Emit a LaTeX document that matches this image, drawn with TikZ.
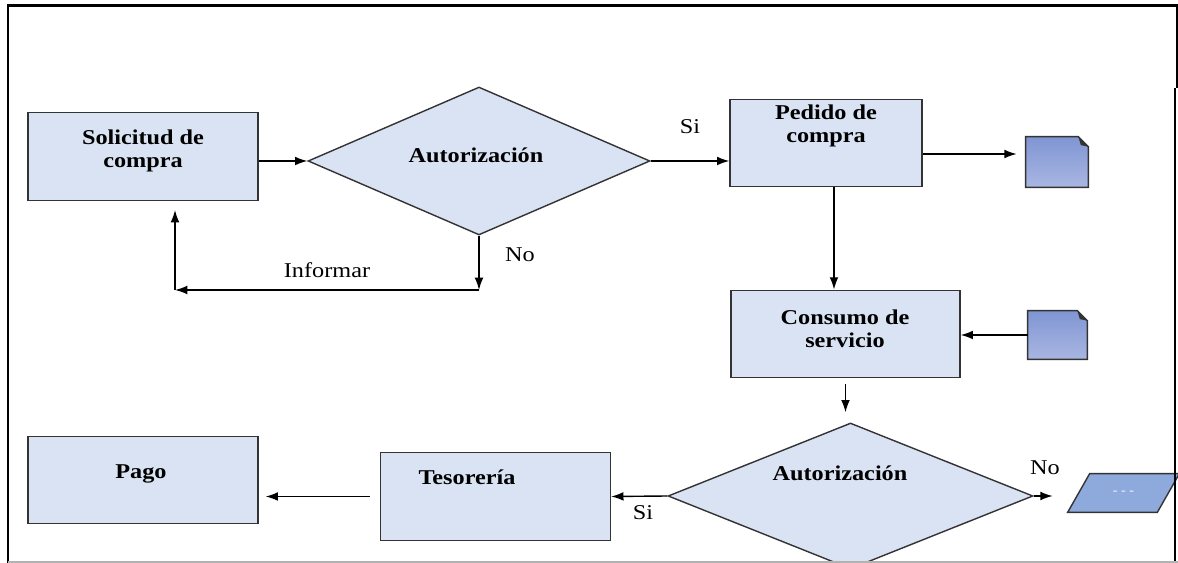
\documentclass[tikz,border=0pt]{standalone}
\usepackage{fontspec}
\setmainfont{Liberation Serif}[FakeStretch=1.15]
\usepackage{tikz}
\usetikzlibrary{shapes.geometric}
\usetikzlibrary{arrows.meta}

\definecolor{cajaazul}{HTML}{DAE3F3}
\definecolor{borde}{HTML}{333333}
\definecolor{hojaarriba}{HTML}{7F95D3}
\definecolor{hojaabajo}{HTML}{A9B6E2}
\definecolor{datosazul}{HTML}{8EA9DB}

\begin{document}
\begin{tikzpicture}[x=0.02cm, y=-0.02cm, >={Latex[length=7pt,width=5pt]},
	caja/.style={draw=borde, fill=cajaazul, line width=0.8pt, minimum width=4.6cm, minimum height=1.75cm, inner sep=0pt},
	rombo/.style={diamond, draw=borde, fill=cajaazul, line width=0.8pt, inner sep=0pt},
	hoja/.style={rectangle, inner sep=0pt},
	hojaborde/.style={draw=borde, line width=0.8pt, top color=hojaarriba, bottom color=hojaabajo},
	datosborde/.style={draw=borde, fill=datosazul, line width=0.8pt},
	texto/.style={font=\fontsize{12}{13}\selectfont\bfseries, align=center, inner sep=0pt},
	etiq/.style={font=\fontsize{12}{13}\selectfont, inner sep=0pt},
	flecha/.style={->, line width=0.8pt}]
	\useasboundingbox (0,0) rectangle (1178,563);
	
	% === fila superior ===
	\node[caja] (sol) at (143,156.5) {};
	\node[texto] (solT) at (143,151) {Solicitud de\\compra};
	\node[rombo, minimum width=6.84cm, minimum height=2.96cm] (aut1) at (479,161) {};
	\node[texto] (aut1T) at (476,155) {Autorización};
	\node[caja, minimum width=3.84cm] (ped) at (826,143) {};
	\node[texto] (pedT) at (826,126) {Pedido de\\compra};
	\node[hoja, minimum width=1.24cm, minimum height=1cm] (doc1) at (1057,162) {};
	
	% === columna derecha ===
	\node[caja, minimum width=4.58cm] (con) at (845.5,334) {};
	\node[texto] (conT) at (845,329) {Consumo de\\servicio};
	\node[hoja, minimum width=1.18cm, minimum height=0.96cm] (doc2) at (1057.5,335) {};
	
	% === fila inferior ===
	\node[rombo, minimum width=7.3cm, minimum height=2.92cm] (aut2) at (850.5,496) {};
	\node[texto] (aut2T) at (840,473) {Autorización};
	\node[hoja, minimum width=2.22cm, minimum height=0.76cm] (par) at (1123.5,493) {};
	\node[caja] (tes) at (495.5,496.5) {};
	\node[texto] (tesT) at (467,477) {Tesorería};
	\node[caja] (pago) at (143,480) {};
	\node[texto] (pagoT) at (141,474) {Pago};
	
	% hojas (documento con esquina doblada)
	\path[hojaborde] (doc1.south west) -- (doc1.north west) -- ([xshift=-0.2cm]doc1.north east)
		-- ([yshift=-0.2cm]doc1.north east) -- (doc1.south east) -- cycle;
	\fill[borde] ([xshift=-0.2cm]doc1.north east) -- ([yshift=-0.2cm]doc1.north east)
		-- ([xshift=-0.15cm,yshift=-0.17cm]doc1.north east) -- cycle;
	\path[hojaborde] (doc2.south west) -- (doc2.north west) -- ([xshift=-0.2cm]doc2.north east)
		-- ([yshift=-0.2cm]doc2.north east) -- (doc2.south east) -- cycle;
	\fill[borde] ([xshift=-0.2cm]doc2.north east) -- ([yshift=-0.2cm]doc2.north east)
		-- ([xshift=-0.15cm,yshift=-0.17cm]doc2.north east) -- cycle;
	
	% datos (paralelogramo)
	\path[datosborde] ([xshift=0.44cm]par.north west) -- (par.north east)
		-- ([xshift=-0.44cm]par.south east) -- (par.south west) -- cycle;
	\node[text=white, font=\scriptsize, inner sep=0pt] (parT) at (par) {- - -};
	
	% === flechas ===
	\draw[flecha] (sol.east |- aut1.west) -- (aut1.west);
	\draw[flecha] (aut1.east) -- (aut1.east -| ped.west);
	\node[etiq] (si1) at (690,127) {Si};
	
	% rama "No": informar a la solicitud
	\coordinate (noC) at (479,290);
	\coordinate (infC) at (175,290);
	\coordinate (solB) at (175,210);
	\draw[flecha] (aut1.south) -- (noC);
	\draw[flecha] (noC) -- (infC);
	\draw[flecha] (infC) -- (solB);
	\node[etiq] (no1) at (520,255) {No};
	\node[etiq] (inf) at (327,270) {Informar};
	
	\draw[flecha, shorten >=0.18cm] ([yshift=-0.22cm]ped.east) -- ([yshift=-0.22cm]ped.east -| doc1.west);
	\draw[flecha] ([xshift=0.16cm]ped.south) -- ([xshift=0.16cm]ped.south |- con.north);
	\draw[flecha] (doc2.west) -- (doc2.west -| con.east);
	\draw[flecha, shorten <=0.12cm, shorten >=0.2cm] (con.south) -- (con.south |- aut2.north);
	
	\draw[flecha] (aut2.west) -- (tes.east);
	\node[etiq] (si2) at (643,513) {Si};
	\draw[flecha, shorten >=0.3cm] (aut2.east) -- (aut2.east -| par.west);
	\node[etiq] (no2) at (1045,468) {No};
	\draw[flecha, shorten <=0.2cm, shorten >=0.14cm] (tes.west) -- (tes.west -| pago.east);
	
	% === cuadro exterior ===
	\draw[line width=1.7pt] (8,563) -- (8,6) -- (1178,6);
	\draw[line width=0.6pt] (1177,6) -- (1177,88);
	\draw[line width=1.7pt] (1175,88) -- (1175,563);
	\draw[gray!60, line width=0.8pt] (8,562) -- (1178,562);
\end{tikzpicture}
\end{document}
